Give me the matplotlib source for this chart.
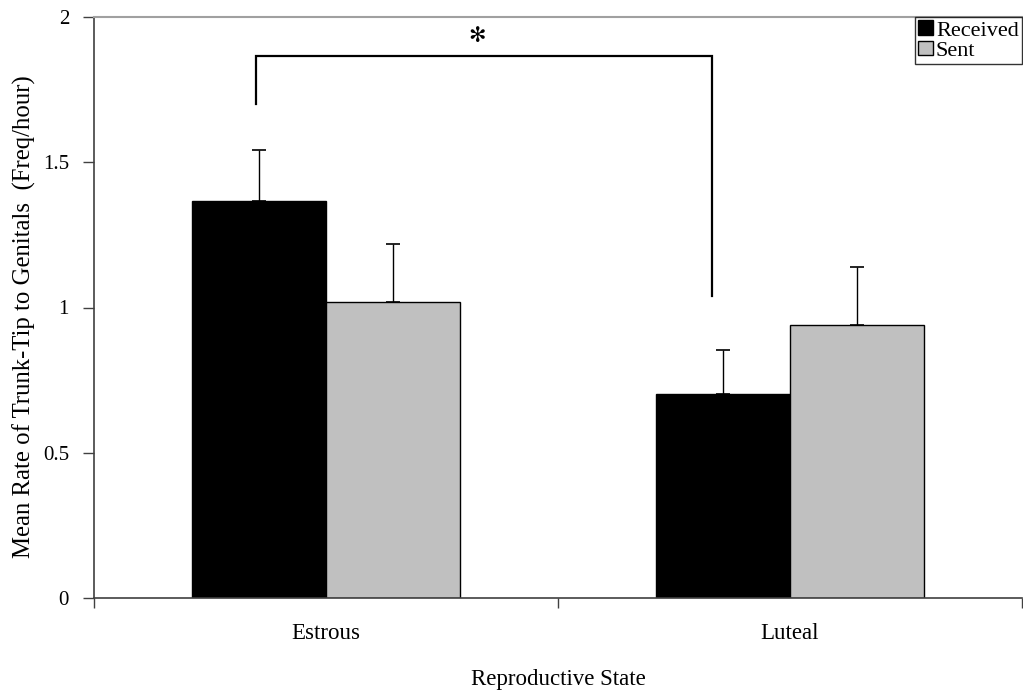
import matplotlib
matplotlib.use("Agg")
import matplotlib.pyplot as plt
import numpy as np
from matplotlib.patches import Patch

categories = ["Estrous", "Luteal"]
received = [1.367, 0.702]
received_err = [0.175, 0.150]
sent = [1.019, 0.940]
sent_err = [0.200, 0.200]
yticks = [0, 0.5, 1, 1.5, 2]
ytick_labels = ["0", "0.5", "1", "1.5", "2"]

plt.rcParams['font.family'] = ['Liberation Serif', 'DejaVu Serif']

fig = plt.figure(figsize=(10.23, 6.92), dpi=100)
ax = fig.add_axes([94/1023, 1-598/692, 928/1023, (598-17)/692])

x = np.arange(len(categories))
w = 0.289
ax.bar(x - w/2, received, w, color="black", edgecolor="black", linewidth=1, zorder=2)
ax.bar(x + w/2, sent, w, color="#c0c0c0", edgecolor="black", linewidth=1, zorder=2)
ax.errorbar(x - w/2, received, yerr=[[0, 0], received_err], fmt="none",
            ecolor="black", elinewidth=1, capsize=5, capthick=1.2, zorder=3)
ax.errorbar(x + w/2, sent, yerr=[[0, 0], sent_err], fmt="none",
            ecolor="black", elinewidth=1, capsize=5, capthick=1.2, zorder=3)

# significance bracket
ax.plot([-0.151, -0.151, 0.832, 0.832], [1.70, 1.866, 1.866, 1.04],
        color="black", linewidth=1.6, solid_joinstyle="miter", zorder=3)
ax.text(0.325, 1.935, "\u273B", ha="center", va="center", fontsize=15,
        fontweight="bold", family="DejaVu Sans")

ax.set_xlim(-0.5, 1.5)
ax.set_ylim(0, 2)
ax.set_yticks(yticks)
ax.set_yticklabels(ytick_labels, fontsize=15)
ax.set_xticks([-0.5, 0.5, 1.5])
ax.set_xticklabels([])
ax.set_xticks(x, minor=True)
ax.set_xticklabels(categories, minor=True, fontsize=16.5)
ax.tick_params(axis="x", which="minor", length=0, pad=18)
ax.tick_params(axis="x", which="major", direction="out", length=7, width=1, color="#404040")
ax.tick_params(axis="y", direction="out", length=8, width=1, pad=10, color="#404040")

ax.spines["right"].set_visible(False)
ax.spines["top"].set_color("#a0a0a0")
ax.spines["top"].set_linewidth(1.5)
ax.spines["left"].set_color("#404040")
ax.spines["bottom"].set_color("#404040")
ax.spines["left"].set_linewidth(1.2)
ax.spines["bottom"].set_linewidth(1.2)

ax.set_xlabel("Reproductive State", fontsize=16.5, labelpad=18)
ax.set_ylabel("Mean Rate of Trunk-Tip to Genitals  (Freq/hour)", fontsize=17.8, labelpad=5)
ax.yaxis.label.set_y(0.4836)

handles = [Patch(facecolor="black", edgecolor="black", label="Received"),
           Patch(facecolor="#c0c0c0", edgecolor="black", label="Sent")]
leg = ax.legend(handles=handles, loc="upper right", bbox_to_anchor=(1.0, 1.0),
                fontsize=16, frameon=True, fancybox=False, borderpad=0.15,
                handlelength=0.65, handleheight=0.65, handletextpad=0.15,
                labelspacing=0.0, borderaxespad=0)
leg.get_frame().set_edgecolor("black")
leg.get_frame().set_linewidth(1)

fig.savefig("out.png", dpi=100)
